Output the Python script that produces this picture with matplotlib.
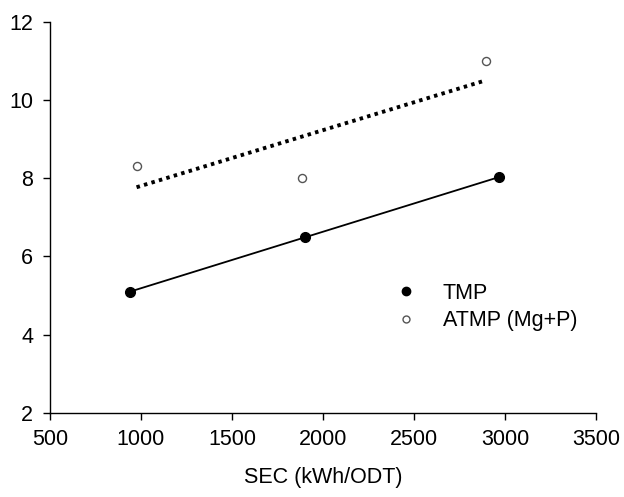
import numpy as np
import matplotlib
matplotlib.use("Agg")
import matplotlib.pyplot as plt
from matplotlib.lines import Line2D

plt.rcParams['font.family'] = ['Liberation Sans', 'DejaVu Sans']

# Data
tmp_sec = [940, 1903, 2967]
tmp_val = [5.09, 6.5, 8.02]
atmp_sec = [976, 1886, 2894]
atmp_val = [8.32, 8.01, 11.0]
x_ticks = [500, 1000, 1500, 2000, 2500, 3000, 3500]
y_ticks = [2, 4, 6, 8, 10, 12]
series_labels = ["TMP", "ATMP (Mg+P)"]
x_label = "SEC (kWh/ODT)"

fig = plt.figure(figsize=(6.24, 4.97), dpi=100)
ax = fig.add_axes([0.080, 0.1696, 0.875, 0.7867])

# trend lines (least squares fits over data range)
p1 = np.polyfit(tmp_sec, tmp_val, 1)
xs1 = np.array([min(tmp_sec), max(tmp_sec)])
ax.plot(xs1, np.polyval(p1, xs1), color='black', lw=1.3, zorder=2)

p2 = np.polyfit(atmp_sec, atmp_val, 1)
xs2 = np.array([min(atmp_sec), max(atmp_sec)])
ax.plot(xs2, np.polyval(p2, xs2), color='black', lw=2.8, ls=(0, (0.9, 1.1)), zorder=2)

ax.plot(tmp_sec, tmp_val, 'o', color='black', ms=7, zorder=3)
ax.plot(atmp_sec, atmp_val, 'o', mfc='white', mec='#555555', mew=1.0, ms=5.8, zorder=3)

ax.set_xlim(500, 3500)
ax.set_ylim(2, 12)
ax.set_xticks(x_ticks)
ax.set_yticks(y_ticks)
ax.spines['top'].set_visible(False)
ax.spines['right'].set_visible(False)
for s in ['left', 'bottom']:
    ax.spines[s].set_linewidth(1.0)
ax.tick_params(direction='out', length=5, width=1.0, labelsize=15.5, pad=7)
ax.set_xlabel(x_label, fontsize=15.5, labelpad=12)

handles = [
    Line2D([], [], ls='none', marker='o', color='black', ms=6),
    Line2D([], [], ls='none', marker='o', mfc='white', mec='#555555', mew=1.0, ms=5),
]
ax.legend(handles, series_labels, frameon=False, fontsize=15.5,
          loc='upper left', bbox_to_anchor=(0.633, 0.332), handlelength=1.0,
          handletextpad=1.2, labelspacing=0.3, borderpad=0, borderaxespad=0)

fig.savefig("out.png", dpi=100)
